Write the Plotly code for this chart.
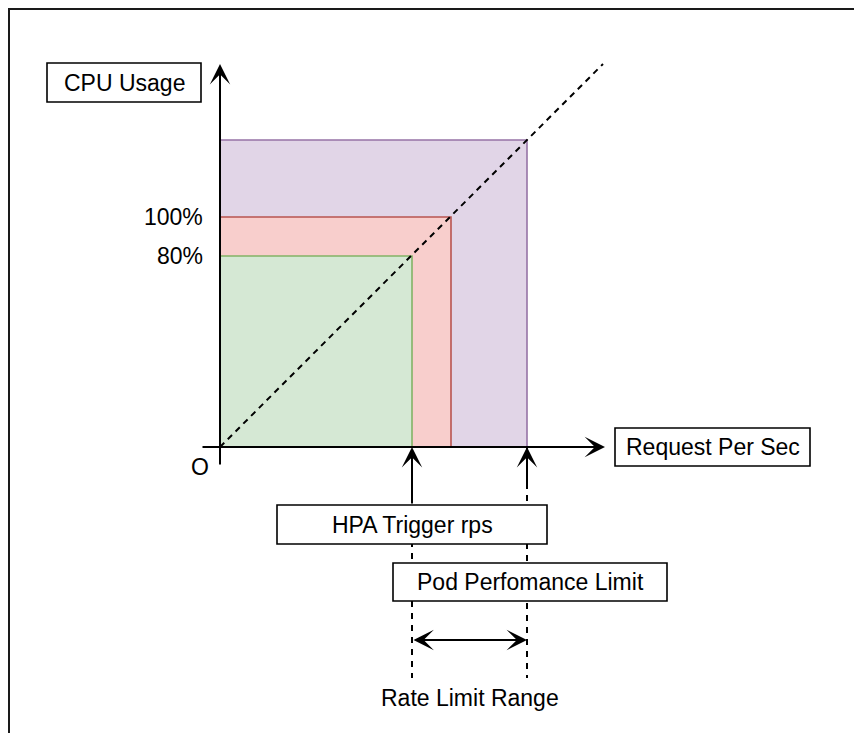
import plotly.graph_objects as go

W, H = 862, 733
PAGE_OFF = 8                 # browser body margin
OX, OY = 220 - PAGE_OFF, 447 - PAGE_OFF  # origin position inside the figure

# ---- data (abstract diagram units, origin = 0) ----
levels = ["80%", "100%", "Limit"]
rps_values = [192, 231, 307]        # HPA trigger rps, rps at 100% CPU, pod performance limit
cpu_values = [191, 230, 307]        # 80% CPU, 100% CPU, limit
fill_colors = ["#d5e8d4", "#f8cecc", "#e1d5e7"]
line_colors = ["#82b366", "#b85450", "#9673a6"]
cpu_tick_labels = ["80%", "100%"]
diag_end = 383
axis_top = 383
axis_right = 385
axis_tail = -19

FONT = dict(family="Liberation Sans, Arial, sans-serif", size=23, color="#000000")

fig = go.Figure()

# stacked rectangles (largest first)
for i in reversed(range(len(levels))):
    xr, yr = rps_values[i], cpu_values[i]
    fig.add_trace(go.Scatter(
        x=[0, xr, xr, 0, 0], y=[0, 0, yr, yr, 0],
        mode="lines", fill="toself", fillcolor=fill_colors[i],
        line=dict(color=line_colors[i], width=1.6),
        hoverinfo="skip", showlegend=False))

# dashed diagonal
fig.add_trace(go.Scatter(x=[0, diag_end], y=[0, diag_end], mode="lines",
                         line=dict(color="#000000", width=2, dash="6px,5px"),
                         hoverinfo="skip", showlegend=False))

# dashed guide lines below the axis
hpa_x = rps_values[0]
lim_x = rps_values[2]
fig.add_trace(go.Scatter(x=[hpa_x, hpa_x], y=[-58, -231], mode="lines",
                         line=dict(color="#000000", width=2, dash="6px,6px"),
                         hoverinfo="skip", showlegend=False))
fig.add_trace(go.Scatter(x=[lim_x, lim_x], y=[0, -231], mode="lines",
                         line=dict(color="#000000", width=2, dash="6px,6px"),
                         hoverinfo="skip", showlegend=False))

shapes = []
# outer frame
shapes.append(dict(type="rect", xref="paper", yref="paper",
                   x0=1 / W, x1=1.05, y0=-0.05, y1=1 - 1 / H,
                   line=dict(color="#1a1a1a", width=2), fillcolor="rgba(0,0,0,0)"))

# label boxes (data coords)
boxes = [
    ("CPU Usage", -173, -19, 345, 384),
    ("Request Per Sec", 395, 590, -19, 19),
    ("HPA Trigger rps", 57, 327, -97, -58),
    ("Pod Perfomance Limit", 173, 447, -154, -116),
]
annotations = []
for txt, x0, x1, y0, y1 in boxes:
    shapes.append(dict(type="rect", xref="x", yref="y", x0=x0, x1=x1, y0=y0, y1=y1,
                       line=dict(color="#000000", width=1.6), fillcolor="#ffffff"))
    annotations.append(dict(x=(x0 + x1) / 2, y=(y0 + y1) / 2, xref="x", yref="y",
                            text=txt, showarrow=False, font=FONT,
                            xanchor="center", yanchor="middle"))

# tick labels
for lab, v in zip(cpu_tick_labels, cpu_values[:2]):
    annotations.append(dict(x=-15, y=v, xref="x", yref="y", text=lab, showarrow=False,
                            font=FONT, xanchor="right", yanchor="middle"))
annotations.append(dict(x=-20.5, y=-19.5, xref="x", yref="y", text="O", showarrow=False,
                        font=FONT, xanchor="center", yanchor="middle"))
annotations.append(dict(x=(hpa_x + lim_x) / 2, y=-251, xref="x", yref="y",
                        text="Rate Limit Range", showarrow=False,
                        font=FONT, xanchor="center", yanchor="middle"))

ARROW = dict(showarrow=True, arrowhead=3, arrowwidth=2, arrowsize=1.7,
             arrowcolor="#000000", text="", xref="x", yref="y", axref="x", ayref="y",
             standoff=0, startstandoff=0)
# axes
annotations.append(dict(ARROW, x=0, y=axis_top, ax=0, ay=axis_tail))
annotations.append(dict(ARROW, x=axis_right, y=0, ax=axis_tail, ay=0))
# vertical arrows to axis
annotations.append(dict(ARROW, x=hpa_x, y=0, ax=hpa_x, ay=-58))
annotations.append(dict(ARROW, x=lim_x, y=0, ax=lim_x, ay=-40))
# rate-limit double arrow
annotations.append(dict(ARROW, x=lim_x, y=-193, ax=hpa_x, ay=-193, arrowside="end+start"))

fig.update_layout(
    width=W, height=H, margin=dict(l=0, r=0, t=0, b=0),
    paper_bgcolor="#ffffff", plot_bgcolor="#ffffff",
    xaxis=dict(range=[-OX, W - OX], visible=False, fixedrange=True),
    yaxis=dict(range=[OY - H, OY], visible=False, fixedrange=True),
    shapes=shapes, annotations=annotations, showlegend=False,
)
fig.write_html("out.html")
